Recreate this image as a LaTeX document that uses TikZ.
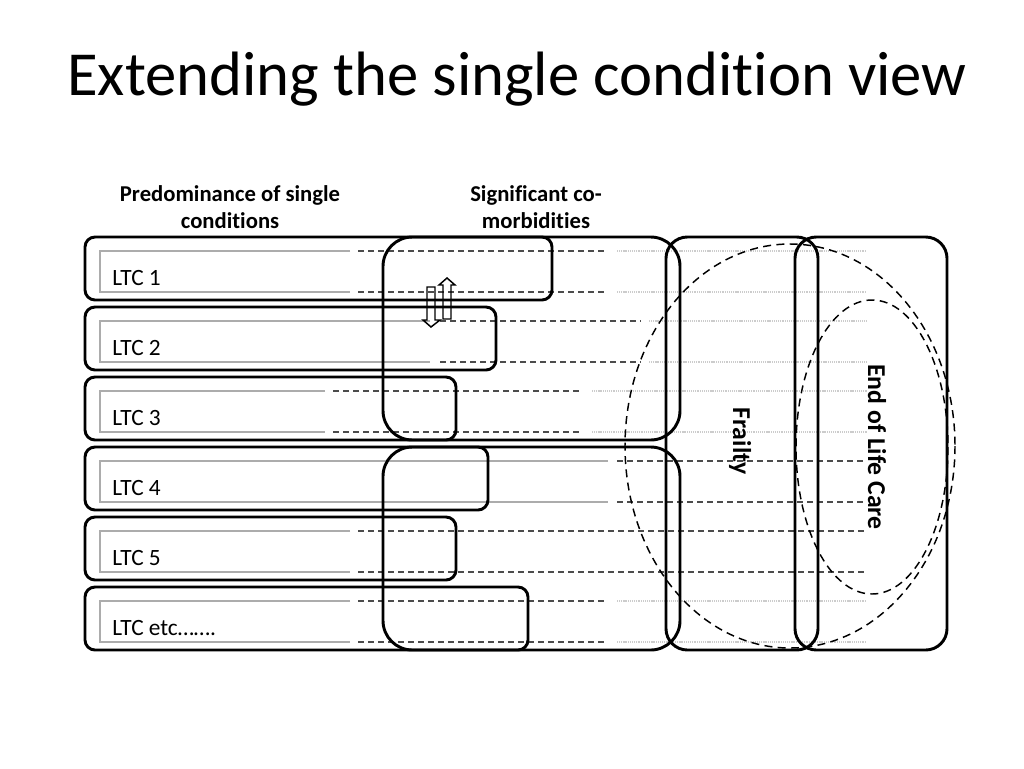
\documentclass[tikz,border=0pt]{standalone}
\usepackage{fontspec}
\setmainfont[Ligatures={NoCommon}]{Carlito}
\begin{document}
\begin{tikzpicture}[x=0.75pt,y=-0.75pt,
  rowbox/.style={line width=2.2pt, rounded corners=7.5pt},
  groupbox/.style={line width=2.2pt, rounded corners=22pt},
  sidebox/.style={line width=2.2pt, rounded corners=16pt},
  solidline/.style={gray!65, line width=1pt},
  dashline/.style={black!70, line width=1pt, dash pattern=on 4.5pt off 3pt},
  dotline/.style={gray!40, line width=0.9pt, dash pattern=on 0.8pt off 0.6pt},
  ring/.style={line width=1.1pt, dash pattern=on 6pt off 4pt},
  blockarrow/.style={line width=1.1pt, line join=miter},
  ltc/.style={anchor=base west, inner sep=0pt, font=\fontsize{17.5}{21}\selectfont},
  heading/.style={align=center, font=\bfseries\fontsize{17}{20}\selectfont},
  sidelabel/.style={rotate=-90, font=\bfseries\fontsize{19.3}{23}\selectfont}]
\useasboundingbox (0,0) rectangle (1024,768);
% title and headings
\node[font=\fontsize{47}{56}\selectfont] (title) at (517,79) {Extending the single condition view};
\node[heading] (single) at (230,207) {Predominance of single\\conditions};
\node[heading] (comorb) at (536,207) {Significant co-\\morbidities};
% row 1
\draw[solidline] (350,251) -- (100,251) -- (100,292) -- (350,292);
\draw[dashline] (358,251) -- (607,251);
\draw[dashline] (358,292) -- (607,292);
\draw[dotline] (617,251) -- (867,251);
\draw[dotline] (617,292) -- (867,292);
\draw[rowbox] (85,237) rectangle (552,300);
\node[ltc] (ltc1) at (112,285) {LTC 1};
% row 2
\draw[solidline] (430,321) -- (100,321) -- (100,362) -- (430,362);
\draw[dashline] (440,321) -- (641,321);
\draw[dashline] (440,362) -- (641,362);
\draw[dotline] (649,321) -- (867,321);
\draw[dotline] (649,362) -- (867,362);
\draw[rowbox] (85,307) rectangle (496,370);
\node[ltc] (ltc2) at (112,355) {LTC 2};
% row 3
\draw[solidline] (325,391) -- (100,391) -- (100,432) -- (325,432);
\draw[dashline] (333,391) -- (582,391);
\draw[dashline] (333,432) -- (582,432);
\draw[dotline] (592,391) -- (867,391);
\draw[dotline] (592,432) -- (867,432);
\draw[rowbox] (85,377) rectangle (456,440);
\node[ltc] (ltc3) at (112,425) {LTC 3};
% row 4
\draw[solidline] (608,461) -- (100,461) -- (100,502) -- (608,502);
\draw[dashline] (617,461) -- (867,461);
\draw[dashline] (617,502) -- (867,502);
\draw[rowbox] (85,447) rectangle (488,510);
\node[ltc] (ltc4) at (112,495) {LTC 4};
% row 5
\draw[solidline] (350,531) -- (100,531) -- (100,572) -- (350,572);
\draw[dashline] (358,531) -- (865,531);
\draw[dashline] (358,572) -- (865,572);
\draw[rowbox] (85,517) rectangle (456,580);
\node[ltc] (ltc5) at (112,565) {LTC 5};
% row 6
\draw[solidline] (350,601) -- (100,601) -- (100,642) -- (350,642);
\draw[dashline] (358,601) -- (607,601);
\draw[dashline] (358,642) -- (607,642);
\draw[dotline] (617,601) -- (867,601);
\draw[dotline] (617,642) -- (867,642);
\draw[rowbox] (85,587) rectangle (528,650);
\node[ltc] (ltc6) at (112,635) {LTC etc…….};
% co-morbidity groups
\draw[groupbox] (383,237) rectangle (680,440);
\draw[groupbox] (383,447) rectangle (680,650);
% two-way arrow
\draw[blockarrow] (427,287) -- (435,287) -- (435,320) -- (440,320) -- (431,327) -- (423,320) -- (427,320) -- cycle;
\draw[blockarrow] (443,319) -- (451,319) -- (451,285) -- (455,285) -- (447,278) -- (439,285) -- (443,285) -- cycle;
% frailty and end of life
\draw[sidebox] (666,237) rectangle (818,650);
\draw[sidebox] (795,237) rectangle (947,650);
\draw[ring] (790,446) ellipse [x radius=165, y radius=202];
\draw[ring] (872,447) ellipse [x radius=76, y radius=147];
\node[sidelabel] (frailty) at (740,441) {Frailty};
\node[sidelabel] (eolc) at (877,447) {End of Life Care};
\end{tikzpicture}
\end{document}
